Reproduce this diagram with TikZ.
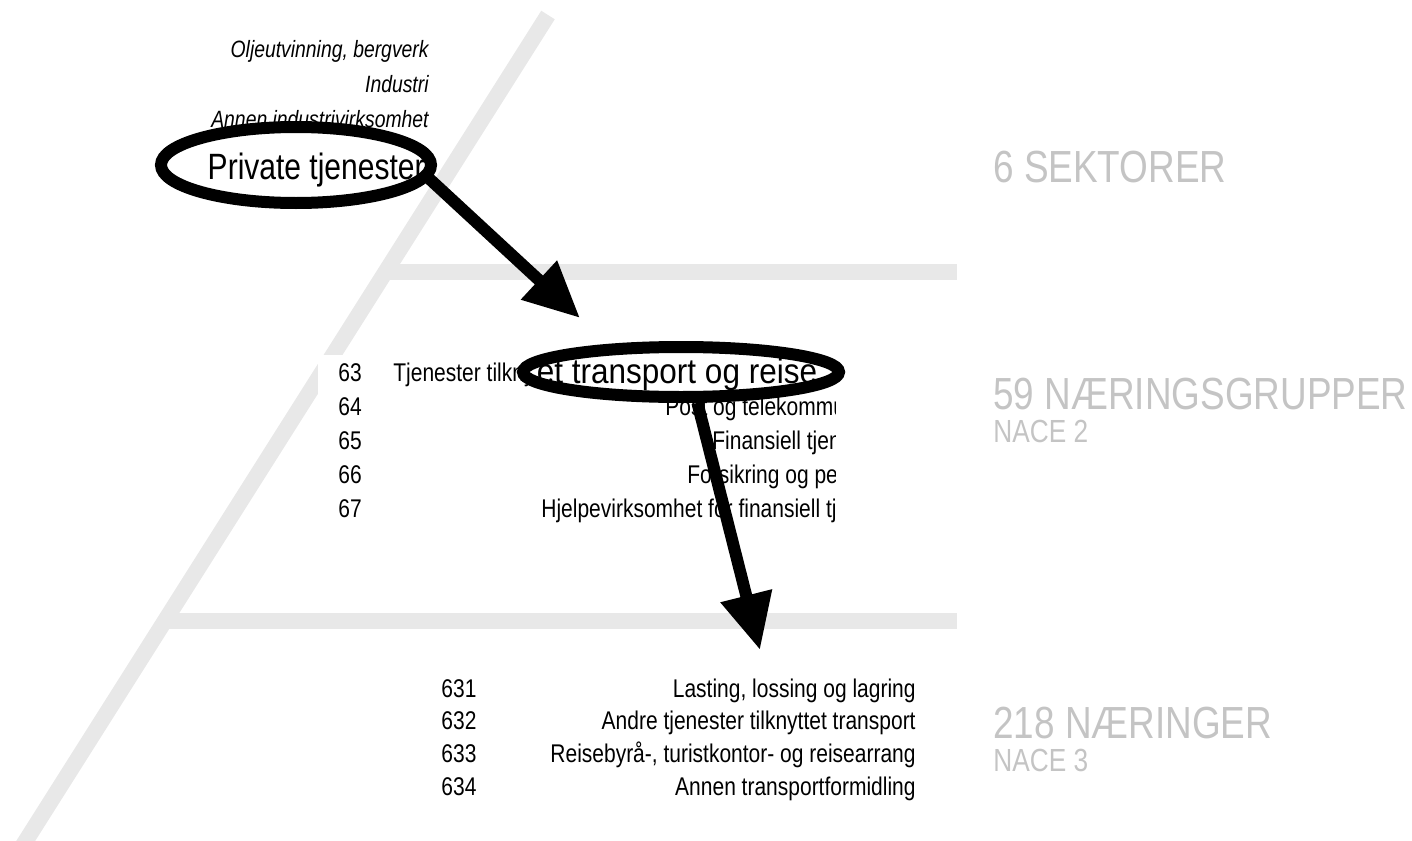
\documentclass[tikz,border=0pt]{standalone}
\usepackage{fontspec}
\setmainfont[FakeStretch=0.82]{Liberation Sans}
\newfontfamily\narrowfont[FakeStretch=0.82]{Liberation Sans}
\newfontfamily\zoomfont[FakeStretch=0.9]{Liberation Sans}
\usetikzlibrary{shapes.geometric,arrows.meta}
\definecolor{band}{RGB}{232,232,232}
\definecolor{label}{RGB}{196,196,196}

\begin{document}
\begin{tikzpicture}[x=0.5pt,y=-0.5pt,>={Triangle[length=28pt,width=25pt]},
  band/.style={draw=band,line width=8pt},
  ring/.style={ellipse,draw,line width=6pt,fill=white,inner sep=0pt},
  bigarrow/.style={->,line width=6pt},
  txt/.style={inner sep=0pt,font=\fontsize{12.8}{14}\selectfont},
  sector/.style={inner sep=0pt,anchor=base east,font=\itshape\fontsize{11.8}{13}\selectfont},
  level/.style={inner sep=0pt,anchor=base west,text=label,font=\narrowfont\fontsize{22.5}{26}\selectfont},
  nace/.style={inner sep=0pt,anchor=base west,text=label,font=\narrowfont\fontsize{16}{18}\selectfont}]
\useasboundingbox (0,0) rectangle (1412,840);
% grey bands
\draw[band] (548,15)--(20,850);
\draw[band] (383,272)--(957,272);
\draw[band] (160,621)--(957,621);
% sectors
\node[sector] (s1) at (429,58) {Oljeutvinning, bergverk};
\node[sector] (s2) at (429,92) {Industri};
\node[sector] (s3) at (429,127) {Annen industrivirksomhet};
% NACE 2 list
\fill[white] (318,355) rectangle (835,530);
\begin{scope}
\clip (300,340) rectangle (835,530);
\foreach \y/\nr/\x/\t in {381/63/393/Tjenester tilknyttet transport og reisebyråvirksomhet,
  415/64/665/Post og telekommunikasjon,449/65/712/Finansiell tjenesteyting,
  483/66/687/Forsikring og pensjonskasser,517/67/541/Hjelpevirksomhet for finansiell tjenesteyting}{
  \node[txt,anchor=base west] (g\nr) at (338,\y) {\nr};
  \node[txt,anchor=base west] (t\nr) at (\x,\y) {\t};
}
\end{scope}
% NACE 3 list
\foreach \y/\nr/\t in {697/631/{Lasting, lossing og lagring},729/632/Andre tjenester tilknyttet transport,
  762/633/{Reisebyrå-, turistkontor- og reisearrang},795/634/Annen transportformidling}{
  \node[txt,anchor=base west] (n\nr) at (441,\y) {\nr};
  \node[txt,anchor=base east] (l\nr) at (916,\y) {\t};
}
% levels
\node[level] (lv1) at (993,182) {6 SEKTORER};
\node[level] (lv2) at (993,409) {59 NÆRINGSGRUPPER};
\node[nace] (nc2) at (993,442) {NACE 2};
\node[level] (lv3) at (993,738) {218 NÆRINGER};
\node[nace] (nc3) at (993,771) {NACE 3};
% magnifying rings
\node[ring,minimum width=158pt,minimum height=25pt] (gruppe) at (681,372) {};
\node[inner sep=0pt,anchor=base,font=\zoomfont\fontsize{17.5}{20}\selectfont] (zoom2) at (677,383) {et transport og reise};
\node[ring,minimum width=135pt,minimum height=38pt] (sektor) at (296,165) {};
\node[inner sep=0pt,anchor=base east,font=\fontsize{18.3}{22}\selectfont] (zoom1) at (425,179) {Private tjenester};
\coordinate (tip1) at (580,318);
\coordinate (tip2) at (760,650);
\draw[bigarrow] (sektor.-6)--(tip1);
\draw[bigarrow] (gruppe.-62)--(tip2);
\end{tikzpicture}
\end{document}
